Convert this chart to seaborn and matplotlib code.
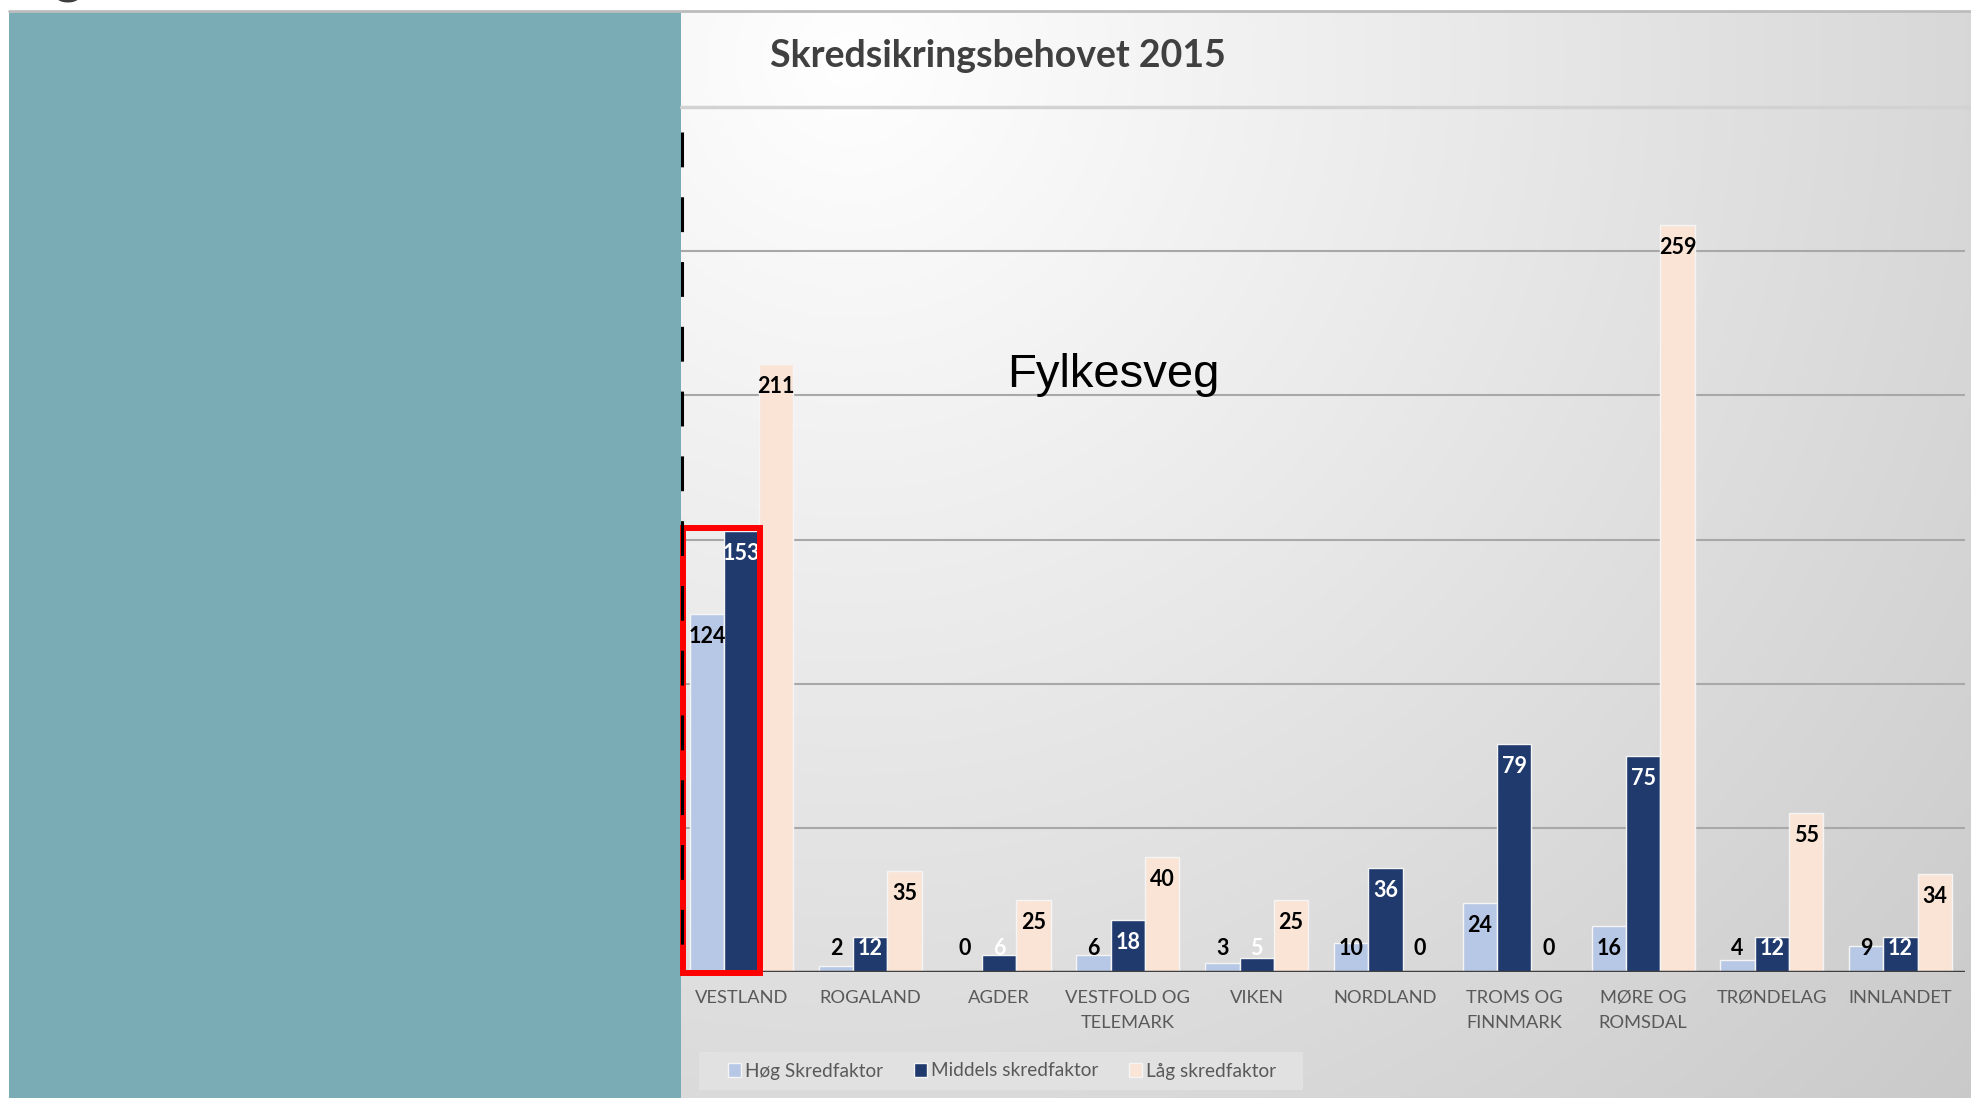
import numpy as np
import pandas as pd
import seaborn as sns
from matplotlib import pyplot as plt
from matplotlib import font_manager
from matplotlib.patches import Rectangle

sns.set_theme(style="white")

names = {f.name for f in font_manager.fontManager.ttflist}
BODY = 'Lato' if 'Lato' in names else 'Liberation Sans'
plt.rcParams['font.family'] = [BODY, 'DejaVu Sans']

# data
regions = ['VESTLAND', 'ROGALAND', 'AGDER', 'VESTFOLD OG\nTELEMARK', 'VIKEN',
           'NORDLAND', 'TROMS OG\nFINNMARK', 'MØRE OG\nROMSDAL', 'TRØNDELAG', 'INNLANDET']
hog = [124, 2, 0, 6, 3, 10, 24, 16, 4, 9]
middels = [153, 12, 6, 18, 5, 36, 79, 75, 12, 12]
lag = [211, 35, 25, 40, 25, 0, 0, 259, 55, 34]
series = ['Høg Skredfaktor', 'Middels skredfaktor', 'Låg skredfaktor']
colors = ['#B7C7E6', '#203A6E', '#F9E4D6']
label_colors = ['black', 'white', 'black']

df = pd.DataFrame({
    'Region': regions * 3,
    'Antall': hog + middels + lag,
    'Type': [s for s in series for _ in regions],
})

W, H = 1971, 1098
fig = plt.figure(figsize=(W / 100, H / 100), dpi=100)

# slide background: gradient panel, teal block, legend box
bg = fig.add_axes([0, 0, 1, 1], zorder=0)
xx, yy = np.meshgrid(np.arange(681, W), np.arange(11, H))
shade = np.clip(255 - 0.035 * np.hypot(xx - 850, yy - 60), 0, 255) / 255
bg.imshow(np.dstack([shade] * 3), extent=(681, W, H, 11), aspect='auto', interpolation='bilinear')
bg.add_patch(Rectangle((9, 11), 672, H - 11, color='#7AACB5', lw=0))
bg.plot([9, W], [11, 11], color='#BDBDBD', lw=2)
bg.add_patch(Rectangle((699, 1052), 604, 38, color='#E1E1E1', lw=0))
bg.text(68, -7, 'g', fontsize=40, fontweight='bold', color='#3F3F3F', ha='center', va='baseline')
bg.set_xlim(0, W)
bg.set_ylim(H, 0)
bg.axis('off')

ax = fig.add_axes([681 / W, 1 - 972 / H, 1284 / W, 865 / H], zorder=1)
ax.patch.set_alpha(0)
sns.barplot(data=df, x='Region', y='Antall', hue='Type', palette=colors, saturation=1,
            width=0.8, edgecolor='#F5F5F5', linewidth=1, ax=ax)
handles, labels = ax.get_legend_handles_labels()
ax.get_legend().remove()

ax.set_xlim(-0.47, 9.5)
ax.set_ylim(0, 300)
ax.set_yticks([50, 100, 150, 200, 250])
ax.set_yticklabels([])
ax.grid(axis='y', color='#A8A8A8', lw=1.5)
ax.set_axisbelow(True)
sns.despine(ax=ax, left=True, bottom=True)
ax.tick_params(length=0)
ax.set_xticks(range(len(regions)), labels=regions, linespacing=1.65)
ax.tick_params(axis='x', pad=13, labelsize=13.2, labelcolor='#595959')
ax.set_xlabel('')
ax.set_ylabel('')
ax.axhline(300, xmax=1.005, color='#D2D2D2', lw=2.5, clip_on=False)
ax.axhline(0, color='#404040', lw=2.5, zorder=3)

# value labels inside the bar ends
for cont, col in zip(ax.containers, label_colors):
    for bar in cont:
        v = bar.get_height()
        ax.text(bar.get_x() + bar.get_width() / 2, max(v - 7.8, 8), f'{v:.0f}',
                ha='center', va='center', fontsize=15.5, fontweight='bold', color=col, zorder=5)

# highlight box and dashed edge
ax.add_patch(Rectangle((-0.455, -0.5), 0.598, 154.5, fill=False, edgecolor='#FF0000',
                       lw=4.3, clip_on=False, zorder=6))
ax.plot([-0.462, -0.462], [291.4, 0], color='black', lw=2.2, dashes=(11.4, 9.8),
        clip_on=False, zorder=6)

fig.text(770 / W, 1 - 67 / H, 'Skredsikringsbehovet 2015', fontsize=27, fontweight='bold',
         color='#404040', va='baseline')
fig.text(1007 / W, 1 - 387 / H, 'Fylkesveg', fontsize=34, color='black', va='baseline',
         family=['Liberation Sans', 'DejaVu Sans'])

fig.legend(handles, labels, loc='center', bbox_to_anchor=(1002 / W, 1 - 1071 / H), ncol=3,
           frameon=False, fontsize=13.7, labelcolor='#595959', handlelength=0.7,
           handleheight=0.7, handletextpad=0.2, columnspacing=1.6)

fig.savefig('out.png', dpi=100)
